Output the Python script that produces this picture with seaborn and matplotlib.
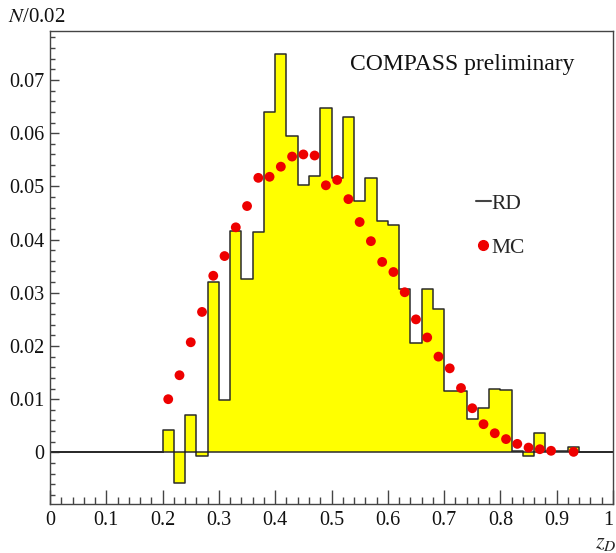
#!/usr/bin/env python3

import numpy as np
import pandas as pd
import seaborn as sns
import matplotlib
matplotlib.use("Agg")
import matplotlib.pyplot as plt
from matplotlib.lines import Line2D
from matplotlib.ticker import MultipleLocator

# RD histogram: bin centres (bin width 0.02) and contents N/0.02
rd_centers = [0.21, 0.23, 0.25, 0.27, 0.29, 0.31, 0.33, 0.35, 0.37, 0.39,
              0.41, 0.43, 0.45, 0.47, 0.49, 0.51, 0.53, 0.55, 0.57, 0.59,
              0.61, 0.63, 0.65, 0.67, 0.69, 0.71, 0.73, 0.75, 0.77, 0.79,
              0.81, 0.83, 0.85, 0.87, 0.89, 0.91, 0.93]
rd_values = [0.0042, -0.0057, 0.0071, -0.0007, 0.0320, 0.0098, 0.0417, 0.0326, 0.0414, 0.0640,
             0.0749, 0.0595, 0.0503, 0.0520, 0.0647, 0.0515, 0.0631, 0.0473, 0.0515, 0.0434,
             0.0428, 0.0307, 0.0206, 0.0307, 0.0270, 0.0115, 0.0115, 0.0062, 0.0084, 0.0120,
             0.0117, 0.0003, -0.0006, 0.0037, 0.0003, 0.0003, 0.0010]

# MC points
mc_x = [0.21, 0.23, 0.25, 0.27, 0.29, 0.31, 0.33, 0.35, 0.37, 0.39,
        0.41, 0.43, 0.45, 0.47, 0.49, 0.51, 0.53, 0.55, 0.57, 0.59,
        0.61, 0.63, 0.65, 0.67, 0.69, 0.71, 0.73, 0.75, 0.77, 0.79,
        0.81, 0.83, 0.85, 0.87, 0.89, 0.93]
mc_y = [0.0100, 0.0145, 0.0207, 0.0264, 0.0332, 0.0369, 0.0423, 0.0463, 0.0516, 0.0518,
        0.0537, 0.0556, 0.0560, 0.0558, 0.0502, 0.0512, 0.0476, 0.0433, 0.0397, 0.0358,
        0.0339, 0.0301, 0.0250, 0.0216, 0.0180, 0.0158, 0.0121, 0.0083, 0.0053, 0.0036,
        0.0025, 0.0016, 0.0009, 0.0006, 0.0003, 0.0001]

x_ticks = [0, 0.1, 0.2, 0.3, 0.4, 0.5, 0.6, 0.7, 0.8, 0.9, 1.0]
x_ticklabels = ["0", "0.1", "0.2", "0.3", "0.4", "0.5", "0.6", "0.7", "0.8", "0.9", "1"]
y_ticks = [0, 0.01, 0.02, 0.03, 0.04, 0.05, 0.06, 0.07]
y_ticklabels = ["0", "0.01", "0.02", "0.03", "0.04", "0.05", "0.06", "0.07"]

sns.set_theme(style="ticks")
plt.rcParams["font.family"] = ["Liberation Serif", "DejaVu Serif"]
plt.rcParams["mathtext.fontset"] = "stix"


def main():
    df_rd = pd.DataFrame({"z": rd_centers, "N": rd_values})
    df_mc = pd.DataFrame({"z": mc_x, "N": mc_y})

    fig = plt.figure(figsize=(6.16, 5.53), dpi=100)
    ax = fig.add_axes([50 / 616, 1 - 504 / 553, 563 / 616, 473 / 553])

    # RD histogram, filled yellow with dark step outline (50 bins over 0..1)
    bin_edges = [round(v, 2) for v in np.linspace(0, 1, 51)]
    sns.histplot(data=df_rd, x="z", weights="N", bins=bin_edges,
                 element="step", fill=True, color="#ffff00", alpha=1,
                 edgecolor="#2b2b2b", linewidth=1.1, ax=ax)

    # MC points
    sns.scatterplot(data=df_mc, x="z", y="N", color="#ee0000", s=50,
                    edgecolor="none", marker="o", zorder=5, ax=ax)

    ax.set_xlim(0, 1)
    ax.set_ylim(-0.0097, 0.0792)
    ax.set_xticks(x_ticks)
    ax.set_xticklabels(x_ticklabels)
    ax.set_yticks(y_ticks)
    ax.set_yticklabels(y_ticklabels)
    ax.xaxis.set_minor_locator(MultipleLocator(0.02))
    ax.yaxis.set_minor_locator(MultipleLocator(0.002))
    ax.tick_params(axis="both", which="both", direction="in", colors="#444444",
                   labelcolor="#111111", labelsize=14.5)
    ax.tick_params(axis="x", which="major", length=10, width=1, pad=5)
    ax.tick_params(axis="x", which="minor", length=5, width=1)
    ax.tick_params(axis="y", which="major", length=6.5, width=1, pad=4)
    ax.tick_params(axis="y", which="minor", length=3.6, width=1)
    # keep the last label ("1") inside the picture
    ax.get_xticklabels()[-1].set_horizontalalignment("right")
    for side in ["left", "bottom", "top", "right"]:
        ax.spines[side].set_color("#444444")
        ax.spines[side].set_linewidth(1)
        ax.spines[side].set_visible(True)

    ax.set_ylabel("")
    ax.set_xlabel("$z_D$", fontsize=16, loc="right")
    ax.xaxis.set_label_coords(1.006, -0.064)
    fig.text(8 / 616, 1 - 17 / 553, "$N$/0.02", fontsize=15, ha="left", va="center",
             color="#111111")

    ax.text(0.533, 0.93, "COMPASS preliminary", transform=ax.transAxes,
            fontsize=17, ha="left", va="center", color="#111111")

    handles = [Line2D([], [], color="#444444", linewidth=1.5),
               Line2D([], [], color="#ee0000", marker="o", linestyle="none", markersize=7)]
    ax.legend(handles, ["RD", "MC"], loc="upper left", bbox_to_anchor=(0.756, 0.656),
              frameon=False, fontsize=15.5, handlelength=0.7, handletextpad=0.05,
              labelspacing=1.1, borderpad=0, borderaxespad=0)

    fig.savefig("out.png", dpi=100)
    plt.close(fig)


if __name__ == "__main__":
    main()
